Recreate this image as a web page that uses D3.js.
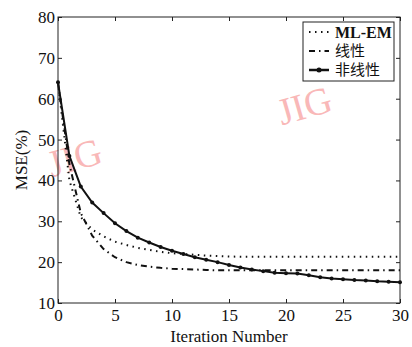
<!DOCTYPE html>
<html>
<head>
<meta charset="utf-8">
<script src="https://cdn.jsdelivr.net/npm/d3@7"></script>
<style>
  body { margin: 0; background: #fff; }
  svg text { font-family: 'Liberation Serif', 'DejaVu Serif', serif; fill: #111; }
</style>
</head>
<body>
<div id="chart"></div>
<script>
// iterations 0..30
const iterations = d3.range(0, 31);
const mlem = [64, 40, 31, 28, 26.3, 25, 24.2, 23.5, 23, 22.5, 22.2, 22, 21.8, 21.6, 21.5, 21.4,
  21.3, 21.3, 21.3, 21.3, 21.3, 21.3, 21.3, 21.3, 21.3, 21.3, 21.3, 21.3, 21.3, 21.3, 21.3];
const linear = [64, 44, 32, 26.5, 23.2, 21.2, 20, 19.3, 18.9, 18.6, 18.4, 18.3, 18.2, 18.1, 18, 18,
  18, 18, 18, 18, 18, 18, 18, 18, 18, 18, 18, 18, 18, 18, 18];
const nonlinear = [64, 46, 38.5, 34.6, 32, 29.5, 27.6, 26, 24.8, 23.7, 22.8, 22, 21.2, 20.6, 20, 19.3,
  18.7, 18.2, 17.8, 17.4, 17.3, 17.2, 16.8, 16.3, 16, 15.8, 15.6, 15.5, 15.3, 15.2, 15.1];
const xTicks = [0, 5, 10, 15, 20, 25, 30];
const yTicks = [10, 20, 30, 40, 50, 60, 70, 80];
const seriesNames = ['ML-EM', '线性', '非线性'];

const W = 412, H = 347;
const margin = {top: 17, right: 12, bottom: 44, left: 58};
const width = W - margin.left - margin.right;
const height = H - margin.top - margin.bottom;

const svg = d3.select('#chart').append('svg').attr('width', W).attr('height', H);

// watermarks
[[78, 170], [308, 118]].forEach(p => {
  svg.append('text')
    .attr('transform', 'translate(' + p[0] + ',' + p[1] + ') rotate(-16)')
    .attr('text-anchor', 'middle')
    .style('font-size', '38px')
    .style('fill', '#f9b8b8')
    .text('JIG');
});

const g = svg.append('g').attr('transform', 'translate(' + margin.left + ',' + margin.top + ')');

const x = d3.scaleLinear().domain([0, 30]).range([0, width]);
const y = d3.scaleLinear().domain([10, 80]).range([height, 0]);

// box
g.append('rect').attr('width', width).attr('height', height)
  .attr('fill', 'none').attr('stroke', '#222').attr('stroke-width', 1);

// axes, inward ticks
g.append('g').attr('transform', 'translate(0,' + height + ')')
  .call(d3.axisBottom(x).tickValues(xTicks).tickSize(-4).tickPadding(6));
g.append('g')
  .call(d3.axisLeft(y).tickValues(yTicks).tickSize(-4).tickPadding(3));
g.append('g').call(d3.axisTop(x).tickValues(xTicks).tickSize(-4).tickFormat(''));
g.append('g').attr('transform', 'translate(' + width + ',0)')
  .call(d3.axisRight(y).tickValues(yTicks).tickSize(-4).tickFormat(''));
g.selectAll('.domain').remove();
g.selectAll('.tick line').attr('stroke', '#222');
g.selectAll('.tick text').style('font-size', '17px').style('font-family', "'Liberation Serif', serif").attr('fill', '#111');

// lines
const line = d3.line().x((d, i) => x(iterations[i])).y(d => y(d));
g.append('path').datum(mlem).attr('d', line).attr('fill', 'none')
  .attr('stroke', '#111').attr('stroke-width', 2).attr('stroke-dasharray', '1.5,4.5');
g.append('path').datum(linear).attr('d', line).attr('fill', 'none')
  .attr('stroke', '#111').attr('stroke-width', 2).attr('stroke-dasharray', '6,4,1.5,4');
g.append('path').datum(nonlinear).attr('d', line).attr('fill', 'none')
  .attr('stroke', '#111').attr('stroke-width', 2);
g.selectAll('circle.nl').data(nonlinear).enter().append('circle')
  .attr('class', 'nl')
  .attr('cx', (d, i) => x(iterations[i])).attr('cy', d => y(d)).attr('r', 2).attr('fill', '#111');

// axis labels
svg.append('text').attr('x', margin.left + width / 2).attr('y', 342)
  .attr('text-anchor', 'middle').style('font-size', '17px').text('Iteration Number');
svg.append('text').attr('transform', 'translate(27,' + (margin.top + height / 2) + ') rotate(-90)')
  .attr('text-anchor', 'middle').style('font-size', '17px').text('MSE(%)');

// legend
const leg = svg.append('g').attr('transform', 'translate(303,22)');
leg.append('rect').attr('width', 91).attr('height', 59)
  .attr('fill', '#fff').attr('stroke', '#222').attr('stroke-width', 1);
const dashes = ['1.5,4.5', '6,4,1.5,4', null];
seriesNames.forEach((name, i) => {
  const yy = 10 + i * 19;
  leg.append('line').attr('x1', 6).attr('x2', 26).attr('y1', yy).attr('y2', yy)
    .attr('stroke', '#111').attr('stroke-width', i === 2 ? 2.5 : 2)
    .attr('stroke-dasharray', dashes[i]);
  if (i === 2) leg.append('circle').attr('cx', 16).attr('cy', yy).attr('r', 2.5).attr('fill', '#111');
  leg.append('text').attr('x', 32).attr('y', yy).attr('dy', '0.35em')
    .style('font-size', i === 0 ? '16px' : '15px')
    .style('font-weight', i === 0 ? 'bold' : 'normal')
    .style('font-family', i === 0 ? "'Liberation Serif', serif" : "'Noto Sans CJK SC', sans-serif")
    .text(name);
});
</script>
</body>
</html>
